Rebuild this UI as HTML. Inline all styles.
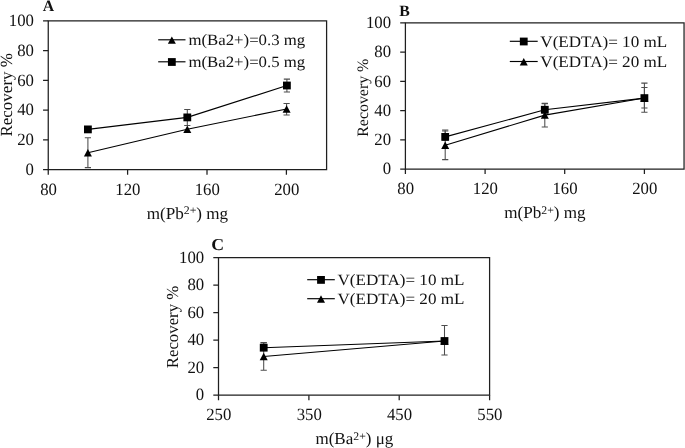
<!DOCTYPE html>
<html><head><meta charset="utf-8"><title>Recovery figure</title>
<style>
html,body{margin:0;padding:0;background:#fff}
body{width:685px;height:448px;overflow:hidden}
svg{display:block}
svg text{text-rendering:geometricPrecision;font-family:"Liberation Serif","Times New Roman",serif;fill:#111}
</style></head><body>
<svg width="685" height="448" viewBox="0 0 685 448">
<rect width="685" height="448" fill="#fff"/>
<g id="chartA">
<path d="M48.25 20.85H326.6V169.7H48.25Z" fill="none" stroke="#1f1f1f" stroke-width="1.25"/>
<path d="M43.05 169.7H48.25M43.05 139.93H48.25M43.05 110.16H48.25M43.05 80.39H48.25M43.05 50.62H48.25M43.05 20.85H48.25M48.25 169.7V174.7M127.6 169.7V174.7M207 169.7V174.7M286.4 169.7V174.7" fill="none" stroke="#1f1f1f" stroke-width="1.25"/>
<text transform="translate(33.95 175) scale(0.975 1)" font-size="17.2" text-anchor="end">0</text>
<text transform="translate(33.95 145.23) scale(0.975 1)" font-size="17.2" text-anchor="end">20</text>
<text transform="translate(33.95 115.46) scale(0.975 1)" font-size="17.2" text-anchor="end">40</text>
<text transform="translate(33.95 85.69) scale(0.975 1)" font-size="17.2" text-anchor="end">60</text>
<text transform="translate(33.95 55.92) scale(0.975 1)" font-size="17.2" text-anchor="end">80</text>
<text transform="translate(33.95 26.15) scale(0.975 1)" font-size="17.2" text-anchor="end">100</text>
<text transform="translate(48.55 195.1) scale(0.975 1)" font-size="17.2" text-anchor="middle">80</text>
<text transform="translate(127.9 195.1) scale(0.975 1)" font-size="17.2" text-anchor="middle">120</text>
<text transform="translate(207.3 195.1) scale(0.975 1)" font-size="17.2" text-anchor="middle">160</text>
<text transform="translate(286.7 195.1) scale(0.975 1)" font-size="17.2" text-anchor="middle">200</text>
<text transform="translate(42.7 11) scale(1 1)" font-size="15.8" text-anchor="start" font-weight="bold">A</text>
<text transform="translate(11.6 94.8) rotate(-90) scale(1 1)" font-size="17" text-anchor="middle">Recovery %</text>
<text transform="translate(187.4 218.6) scale(1.02 1)" font-size="16.8" text-anchor="middle">m(Pb<tspan font-size="11.6" dy="-4.4">2+</tspan><tspan dy="4.4">) mg</tspan></text>
<path d="M87.9 137.8V167.6M84.8 137.8H91M84.8 167.6H91" stroke="#4d4d4d" stroke-width="1.05" fill="none"/>
<path d="M286.6 103.4V115M283.5 103.4H289.7M283.5 115H289.7" stroke="#4d4d4d" stroke-width="1.05" fill="none"/>
<path d="M187.3 109.5V125.4M184.2 109.5H190.4M184.2 125.4H190.4" stroke="#4d4d4d" stroke-width="1.05" fill="none"/>
<path d="M286.9 79.1V91.9M283.8 79.1H290M283.8 91.9H290" stroke="#4d4d4d" stroke-width="1.05" fill="none"/>
<polyline points="87.9,152.8 187.3,129.3 286.6,109" fill="none" stroke="#000" stroke-width="1.15"/>
<polygon points="87.9,149.1 91.9,156.5 83.9,156.5" fill="#000"/>
<polygon points="187.3,125.6 191.3,133 183.3,133" fill="#000"/>
<polygon points="286.6,105.3 290.6,112.7 282.6,112.7" fill="#000"/>
<polyline points="87.9,129.4 187.3,117.4 286.9,85.5" fill="none" stroke="#000" stroke-width="1.15"/>
<rect x="84" y="125.5" width="7.8" height="7.8" fill="#000"/>
<rect x="183.4" y="113.5" width="7.8" height="7.8" fill="#000"/>
<rect x="283" y="81.6" width="7.8" height="7.8" fill="#000"/>
<path d="M158.2 39.8H185.5" stroke="#000" stroke-width="1.15"/>
<polygon points="171.85,36.4 175.85,43.8 167.85,43.8" fill="#000"/>
<text transform="translate(188.4 45.4) scale(1.07 1)" font-size="15.7" text-anchor="start">m(Ba2+)=0.3 mg</text>
<path d="M158.2 61.8H185.5" stroke="#000" stroke-width="1.15"/>
<rect x="167.95" y="58.1" width="7.8" height="7.8" fill="#000"/>
<text transform="translate(188.4 67.4) scale(1.07 1)" font-size="15.7" text-anchor="start">m(Ba2+)=0.5 mg</text>
</g>
<g id="chartB">
<path d="M405.4 22.85H684.05V169.05H405.4Z" fill="none" stroke="#1f1f1f" stroke-width="1.25"/>
<path d="M400.2 169.05H405.4M400.2 139.81H405.4M400.2 110.57H405.4M400.2 81.33H405.4M400.2 52.09H405.4M400.2 22.85H405.4M405.4 169.05V174.05M485.1 169.05V174.05M564.7 169.05V174.05M644.4 169.05V174.05" fill="none" stroke="#1f1f1f" stroke-width="1.25"/>
<text transform="translate(391.1 174.35) scale(0.975 1)" font-size="17.2" text-anchor="end">0</text>
<text transform="translate(391.1 145.11) scale(0.975 1)" font-size="17.2" text-anchor="end">20</text>
<text transform="translate(391.1 115.87) scale(0.975 1)" font-size="17.2" text-anchor="end">40</text>
<text transform="translate(391.1 86.63) scale(0.975 1)" font-size="17.2" text-anchor="end">60</text>
<text transform="translate(391.1 57.39) scale(0.975 1)" font-size="17.2" text-anchor="end">80</text>
<text transform="translate(391.1 28.15) scale(0.975 1)" font-size="17.2" text-anchor="end">100</text>
<text transform="translate(405.7 194.45) scale(0.975 1)" font-size="17.2" text-anchor="middle">80</text>
<text transform="translate(485.4 194.45) scale(0.975 1)" font-size="17.2" text-anchor="middle">120</text>
<text transform="translate(565 194.45) scale(0.975 1)" font-size="17.2" text-anchor="middle">160</text>
<text transform="translate(644.7 194.45) scale(0.975 1)" font-size="17.2" text-anchor="middle">200</text>
<text transform="translate(399.2 16) scale(1 1)" font-size="15.8" text-anchor="start" font-weight="bold">B</text>
<text transform="translate(367.6 97.7) rotate(-90) scale(1 1)" font-size="15.9" text-anchor="middle">Recovery %</text>
<text transform="translate(544.9 218) scale(1.02 1)" font-size="16.8" text-anchor="middle">m(Pb<tspan font-size="11.6" dy="-4.4">2+</tspan><tspan dy="4.4">) mg</tspan></text>
<path d="M445.2 131V159.6M442.1 131H448.3M442.1 159.6H448.3" stroke="#4d4d4d" stroke-width="1.05" fill="none"/>
<path d="M544.8 103.3V126.9M541.7 103.3H547.9M541.7 126.9H547.9" stroke="#4d4d4d" stroke-width="1.05" fill="none"/>
<path d="M644.4 83.1V112.25M641.3 83.1H647.5M641.3 112.25H647.5" stroke="#4d4d4d" stroke-width="1.05" fill="none"/>
<path d="M445.2 130V140M442.1 130H448.3M442.1 140H448.3" stroke="#4d4d4d" stroke-width="1.05" fill="none"/>
<path d="M544.8 103.6V113M541.7 103.6H547.9M541.7 113H547.9" stroke="#4d4d4d" stroke-width="1.05" fill="none"/>
<path d="M644.4 87.5V107.9M641.3 87.5H647.5M641.3 107.9H647.5" stroke="#4d4d4d" stroke-width="1.05" fill="none"/>
<polyline points="445.2,145.3 544.8,115.1 644.4,98" fill="none" stroke="#000" stroke-width="1.15"/>
<polygon points="445.2,141.6 449.2,149 441.2,149" fill="#000"/>
<polygon points="544.8,111.4 548.8,118.8 540.8,118.8" fill="#000"/>
<polygon points="644.4,94.3 648.4,101.7 640.4,101.7" fill="#000"/>
<polyline points="445.2,136.9 544.8,109.75 644.4,98.1" fill="none" stroke="#000" stroke-width="1.15"/>
<rect x="441.3" y="133" width="7.8" height="7.8" fill="#000"/>
<rect x="540.9" y="105.85" width="7.8" height="7.8" fill="#000"/>
<rect x="640.5" y="94.2" width="7.8" height="7.8" fill="#000"/>
<path d="M509.8 41.3H537.7" stroke="#000" stroke-width="1.15"/>
<rect x="519.85" y="37.6" width="7.8" height="7.8" fill="#000"/>
<text transform="translate(540.3 46.8) scale(1.068 1)" font-size="16" text-anchor="start">V(EDTA)= 10 mL</text>
<path d="M509.8 61.5H537.7" stroke="#000" stroke-width="1.15"/>
<polygon points="523.75,58.1 527.75,65.5 519.75,65.5" fill="#000"/>
<text transform="translate(540.3 66.9) scale(1.068 1)" font-size="16" text-anchor="start">V(EDTA)= 20 mL</text>
</g>
<g id="chartC">
<path d="M218.5 257.5H489.6V395.15H218.5Z" fill="none" stroke="#1f1f1f" stroke-width="1.25"/>
<path d="M213.3 395.15H218.5M213.3 367.62H218.5M213.3 340.09H218.5M213.3 312.56H218.5M213.3 285.03H218.5M213.3 257.5H218.5M218.5 395.15V400.15M308.9 395.15V400.15M399.2 395.15V400.15M489.6 395.15V400.15" fill="none" stroke="#1f1f1f" stroke-width="1.25"/>
<text transform="translate(204.2 400.45) scale(0.975 1)" font-size="17.2" text-anchor="end">0</text>
<text transform="translate(204.2 372.92) scale(0.975 1)" font-size="17.2" text-anchor="end">20</text>
<text transform="translate(204.2 345.39) scale(0.975 1)" font-size="17.2" text-anchor="end">40</text>
<text transform="translate(204.2 317.86) scale(0.975 1)" font-size="17.2" text-anchor="end">60</text>
<text transform="translate(204.2 290.33) scale(0.975 1)" font-size="17.2" text-anchor="end">80</text>
<text transform="translate(204.2 262.8) scale(0.975 1)" font-size="17.2" text-anchor="end">100</text>
<text transform="translate(218.8 420) scale(0.975 1)" font-size="17.2" text-anchor="middle">250</text>
<text transform="translate(309.2 420) scale(0.975 1)" font-size="17.2" text-anchor="middle">350</text>
<text transform="translate(399.5 420) scale(0.975 1)" font-size="17.2" text-anchor="middle">450</text>
<text transform="translate(489.9 420) scale(0.975 1)" font-size="17.2" text-anchor="middle">550</text>
<text transform="translate(211.3 250) scale(1.07 1)" font-size="16.6" text-anchor="start" font-weight="bold">C</text>
<text transform="translate(178.2 327) rotate(-90) scale(1 1)" font-size="16.8" text-anchor="middle">Recovery %</text>
<text transform="translate(354.4 444) scale(1.015 1)" font-size="16.8" text-anchor="middle">m(Ba<tspan font-size="11.6" dy="-4.4">2+</tspan><tspan dy="4.4">) μg</tspan></text>
<path d="M263.7 342.75V370.25M260.6 342.75H266.8M260.6 370.25H266.8" stroke="#4d4d4d" stroke-width="1.05" fill="none"/>
<path d="M444.5 325.4V355M441.4 325.4H447.6M441.4 355H447.6" stroke="#4d4d4d" stroke-width="1.05" fill="none"/>
<path d="M263.7 342.6V350M260.6 342.6H266.8M260.6 350H266.8" stroke="#4d4d4d" stroke-width="1.05" fill="none"/>
<polyline points="263.7,356.5 444.5,341" fill="none" stroke="#000" stroke-width="1.15"/>
<polygon points="263.7,352.8 267.7,360.2 259.7,360.2" fill="#000"/>
<polygon points="444.5,337.3 448.5,344.7 440.5,344.7" fill="#000"/>
<polyline points="263.7,347.7 444.5,341" fill="none" stroke="#000" stroke-width="1.15"/>
<rect x="259.8" y="343.8" width="7.8" height="7.8" fill="#000"/>
<rect x="440.6" y="337.1" width="7.8" height="7.8" fill="#000"/>
<path d="M307.2 279.7H334.8" stroke="#000" stroke-width="1.15"/>
<rect x="317.1" y="276" width="7.8" height="7.8" fill="#000"/>
<text transform="translate(337.5 284.7) scale(1.09 1)" font-size="15.7" text-anchor="start">V(EDTA)= 10 mL</text>
<path d="M307.2 298.7H334.8" stroke="#000" stroke-width="1.15"/>
<polygon points="321,295.3 325,302.7 317,302.7" fill="#000"/>
<text transform="translate(337.5 304.1) scale(1.09 1)" font-size="15.7" text-anchor="start">V(EDTA)= 20 mL</text>
</g>
</svg>
</body></html>
